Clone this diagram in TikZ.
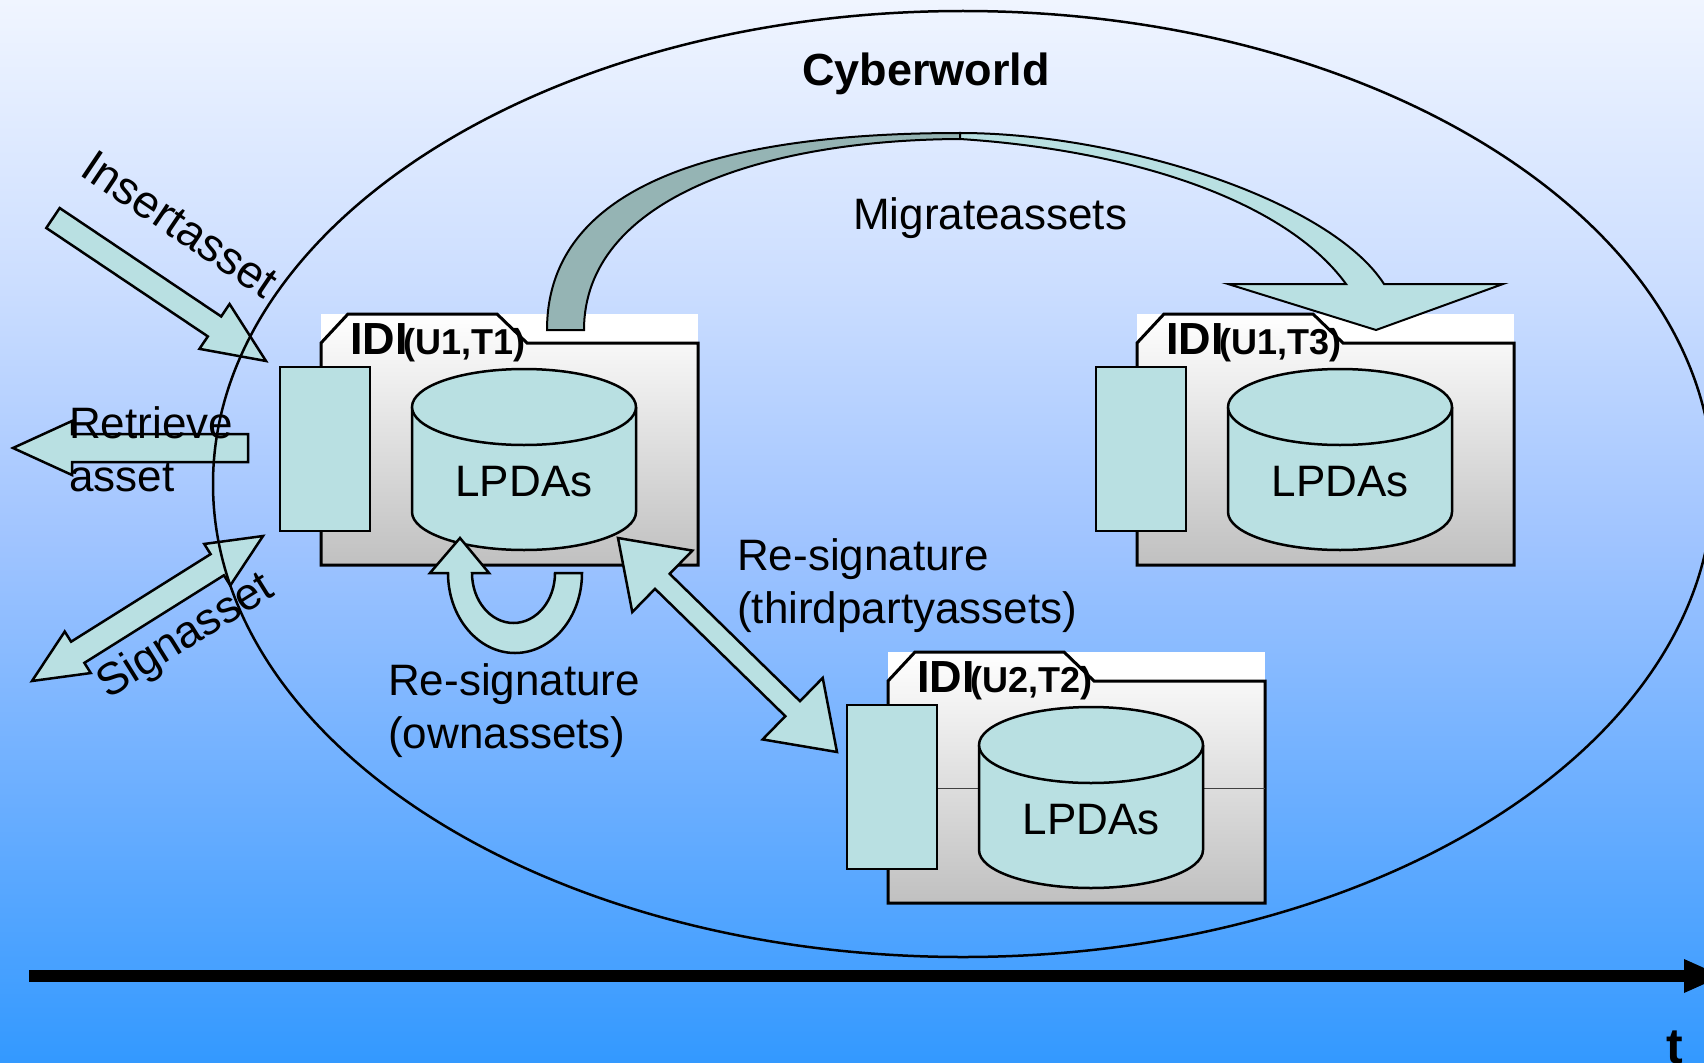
\documentclass[tikz,border=0pt]{standalone}
\usepackage{fontspec}
\setmainfont{Liberation Sans}
\usetikzlibrary{calc}
\definecolor{cyanfill}{RGB}{185,224,226}
\definecolor{grayarc}{RGB}{149,180,180}
\definecolor{boxgray}{RGB}{192,192,192}
\definecolor{bgA}{RGB}{240,245,255}
\definecolor{bgB}{RGB}{204,222,255}
\definecolor{bgC}{RGB}{160,196,255}
\definecolor{bgD}{RGB}{106,174,255}
\definecolor{bgE}{RGB}{51,153,255}
\pgfdeclareverticalshading{bgshade}{100bp}{color(0bp)=(bgE); color(25bp)=(bgE); color(37.3bp)=(bgD); color(49.6bp)=(bgC); color(61.8bp)=(bgB); color(75bp)=(bgA); color(100bp)=(bgA)}

% single block arrow: tail, tip, half shaft width, half head width, head length
\newcommand\blockarrow[5]{%
\path[blk] let \p1=(#1), \p2=(#2), \n1={atan2(\y2-\y1,\x2-\x1)}, \n2={veclen(\x2-\x1,\y2-\y1)-#5pt} in
 ($(\p1)+(\n1+90:#3pt)$) -- ($(\p1)+(\n1:\n2)+(\n1+90:#3pt)$) -- ($(\p1)+(\n1:\n2)+(\n1+90:#4pt)$) -- (\p2)
 -- ($(\p1)+(\n1:\n2)+(\n1-90:#4pt)$) -- ($(\p1)+(\n1:\n2)+(\n1-90:#3pt)$) -- ($(\p1)+(\n1-90:#3pt)$) -- cycle;}

% double block arrow
\newcommand\dblarrow[5]{%
\path[blk] let \p1=(#1), \p2=(#2), \n1={atan2(\y2-\y1,\x2-\x1)}, \n2={veclen(\x2-\x1,\y2-\y1)-#5pt} in
 (\p1) -- ($(\p1)+(\n1:#5pt)+(\n1+90:#4pt)$) -- ($(\p1)+(\n1:#5pt)+(\n1+90:#3pt)$)
 -- ($(\p1)+(\n1:\n2)+(\n1+90:#3pt)$) -- ($(\p1)+(\n1:\n2)+(\n1+90:#4pt)$) -- (\p2)
 -- ($(\p1)+(\n1:\n2)+(\n1-90:#4pt)$) -- ($(\p1)+(\n1:\n2)+(\n1-90:#3pt)$)
 -- ($(\p1)+(\n1:#5pt)+(\n1-90:#3pt)$) -- ($(\p1)+(\n1:#5pt)+(\n1-90:#4pt)$) -- cycle;}

% IDI box: dx, dy, label, name, extra drawing
\newcommand\idibox[5]{%
\begin{scope}[shift={(#1,#2)}]
 \fill[white] (321,314) rectangle (698,343);
 \path[draw=black, line width=3pt, top color=white, bottom color=boxgray]
   (321,343) -- (348,314) -- (497,314) -- (527,343) -- (698,343) -- (698,565) -- (321,565) -- cycle;
 #5
 \filldraw[cyl] (280,367) rectangle (370,531);
 \filldraw[cyl] (412,407) -- (412,512) arc[start angle=180,end angle=360,x radius=112pt,y radius=38pt] -- (636,407);
 \filldraw[cyl] (524,407) ellipse[x radius=112pt,y radius=38pt];
 \node[lbl] (#4-db) at (524,482) {LPDAs};
 \node[anchor=base west, inner sep=0pt] (#4-lbl) at (350,354)
   {\fontsize{45}{50}\selectfont\bfseries IDI\kern-4pt\fontsize{36}{40}\selectfont(#3)};
\end{scope}}

\begin{document}
\begin{tikzpicture}[x=1pt,y=-1pt,
  blk/.style={fill=cyanfill, draw=black, line width=2.5pt, line join=miter},
  cyl/.style={fill=cyanfill, draw=black, line width=2.5pt},
  lbl/.style={font=\fontsize{44}{53}\selectfont, inner sep=0pt, align=left}]
\useasboundingbox (0,0) rectangle (1704,1062);
\shade[shading=bgshade] (0,0) rectangle (1704,1062);

% boxes
\idibox{0}{0}{U1,T1}{b1}{}
\idibox{816}{0}{U1,T3}{b3}{}
\idibox{567}{338}{U2,T2}{b2}{\draw[line width=1pt, black!75] (370,450) -- (698,450);}

% left arrows
\coordinate (ins-a) at (53,218);
\coordinate (ins-b) at (266,361);
\blockarrow{ins-a}{ins-b}{12}{27}{62}
\coordinate (ret-a) at (248,448);
\coordinate (ret-b) at (13,448);
\blockarrow{ret-a}{ret-b}{14}{27}{59}
\coordinate (sig-a) at (263,536);
\coordinate (sig-b) at (32,681);
\dblarrow{sig-a}{sig-b}{12.5}{24.5}{54}

% cyberworld ellipse
\draw[line width=2.5pt] (963,484) ellipse[x radius=750pt, y radius=473pt];

% migrate arrow
\filldraw[fill=grayarc, draw=black, line width=2pt]
  (547,330) .. controls (547,180) and (730,133) .. (960,133) -- (960,139)
  .. controls (760,140) and (584,200) .. (584,330) -- cycle;
\filldraw[blk, line width=2pt]
  (960,133) .. controls (1120,133) and (1330,200) .. (1384,284) -- (1503,284) -- (1376,330)
  -- (1228,284) -- (1346,284) .. controls (1285,200) and (1130,150) .. (960,139) -- cycle;

% re-signature own assets (U-turn)
\filldraw[blk] (448,573) arc[start angle=180,end angle=360,x radius=67pt,y radius=80pt]
  -- (555,573) arc[start angle=0,end angle=-180,x radius=41.5pt,y radius=50pt]
  -- (489,573) -- (460,538) -- (430,573) -- cycle;

% re-signature third party
\coordinate (tp-a) at (618,538);
\coordinate (tp-b) at (837,752);
\dblarrow{tp-a}{tp-b}{10.5}{43}{62}

% time axis
\coordinate (t0) at (29,976);
\coordinate (t1) at (1686,976);
\draw[line width=12pt] (t0) -- (t1);
\fill (1684,959) -- (1722,976) -- (1684,993) -- cycle;
\node[anchor=base west, inner sep=0pt, font=\fontsize{50}{54}\selectfont\bfseries] (tlabel) at (1666,1063) {t};

% labels
\node[anchor=base, inner sep=0pt, font=\fontsize{45}{50}\selectfont\bfseries] (cyber) at (926,86) {Cyberworld};
\node[lbl, anchor=base west] (migr) at (853,229) {Migrateassets};
\node[lbl, anchor=north west] (retr) at (69,406) {Retrieve\\asset};
\node[lbl, anchor=north west] (rsown) at (388,663) {Re-signature\\(ownassets)};
\node[lbl, anchor=north west] (rs3rd) at (737,538) {Re-signature\\(thirdpartyassets)};
\node[lbl, rotate=-34, font=\fontsize{46}{53}\selectfont] (ins) at (180,224) {Insertasset};
\node[lbl, rotate=32, font=\fontsize{45}{53}\selectfont] (sign) at (186,637) {Signasset};
\end{tikzpicture}
\end{document}
